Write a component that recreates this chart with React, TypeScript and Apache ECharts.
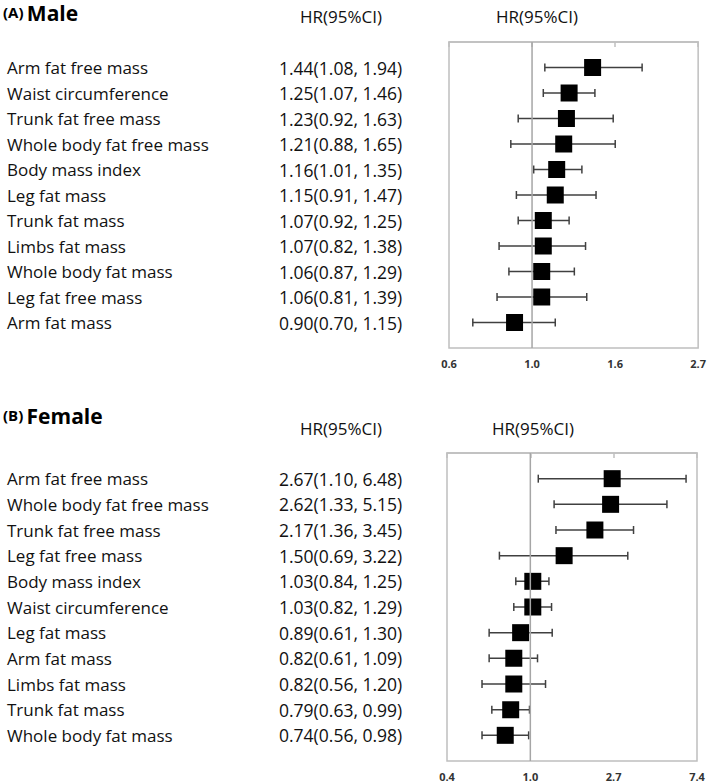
import React, { useEffect, useRef } from "react";
import * as echarts from "echarts";

const maleNames = [
  "Arm fat free mass",
  "Waist circumference",
  "Trunk fat free mass",
  "Whole body fat free mass",
  "Body mass index",
  "Leg fat mass",
  "Trunk fat mass",
  "Limbs fat mass",
  "Whole body fat mass",
  "Leg fat free mass",
  "Arm fat mass",
];
const maleHR = [1.44, 1.25, 1.23, 1.21, 1.16, 1.15, 1.07, 1.07, 1.06, 1.06, 0.9];
const maleLo = [1.08, 1.07, 0.92, 0.88, 1.01, 0.91, 0.92, 0.82, 0.87, 0.81, 0.7];
const maleHi = [1.94, 1.46, 1.63, 1.65, 1.35, 1.47, 1.25, 1.38, 1.29, 1.39, 1.15];
const maleTicks = ["0.6", "1.0", "1.6", "2.7"];

const femaleNames = [
  "Arm fat free mass",
  "Whole body fat free mass",
  "Trunk fat free mass",
  "Leg fat free mass",
  "Body mass index",
  "Waist circumference",
  "Leg fat mass",
  "Arm fat mass",
  "Limbs fat mass",
  "Trunk fat mass",
  "Whole body fat mass",
];
const femaleHR = [2.67, 2.62, 2.17, 1.5, 1.03, 1.03, 0.89, 0.82, 0.82, 0.79, 0.74];
const femaleLo = [1.1, 1.33, 1.36, 0.69, 0.84, 0.82, 0.61, 0.61, 0.56, 0.63, 0.56];
const femaleHi = [6.48, 5.15, 3.45, 3.22, 1.25, 1.29, 1.3, 1.09, 1.2, 0.99, 0.98];
const femaleTicks = ["0.4", "1.0", "2.7", "7.4"];

const FONT = "'Open Sans', sans-serif";
const fmt = (v: number) => v.toFixed(2);

function panel(
  gi: number,
  names: string[],
  hr: number[],
  lo: number[],
  hi: number[],
  ticks: string[],
  min: number,
  max: number,
  interval: number,
  gridLeft: number
) {
  const n = names.length;
  const xAxis = {
    type: "value",
    gridIndex: gi,
    min,
    max,
    interval,
    axisLine: { show: true, lineStyle: { color: "#bfbfbf", width: 1.5 } },
    axisTick: { show: true, length: 5, inside: false, lineStyle: { color: "#bfbfbf", width: 1.5 } },
    splitLine: { show: false },
    axisLabel: {
      margin: 10,
      color: "#333",
      fontWeight: "bold",
      fontSize: 11,
      fontFamily: FONT,
      formatter: (v: number) => ticks[Math.round((v - min) / interval)] ?? "",
    },
  };
  const yBase = {
    type: "value",
    gridIndex: gi,
    min: 0,
    max: n + 1,
    interval: 1,
    inverse: true,
    position: "left",
    axisLine: { show: false },
    axisTick: { show: false },
    splitLine: { show: false },
  };
  const yNames = {
    ...yBase,
    axisLabel: {
      align: "left",
      margin: gridLeft - 7,
      color: "#111",
      fontSize: 17,
      fontFamily: FONT,
      formatter: (v: number) => (v >= 1 && v <= n ? names[v - 1] : ""),
    },
  };
  const yHR = {
    ...yBase,
    axisLabel: {
      align: "left",
      margin: gridLeft - 279,
      color: "#111",
      fontSize: 17.5,
      fontFamily: FONT,
      formatter: (v: number) =>
        v >= 1 && v <= n ? `${fmt(hr[v - 1])}(${fmt(lo[v - 1])}, ${fmt(hi[v - 1])})` : "",
    },
  };
  const data = hr.map((h, i) => [i + 1, Math.log(h), Math.log(lo[i]), Math.log(hi[i])]);
  return { xAxis, yNames, yHR, data };
}

export default function App() {
  const ref = useRef<HTMLDivElement>(null);
  useEffect(() => {
    if (!ref.current) return;
    const chart = echarts.init(ref.current, null, { renderer: "svg" });
    const m = panel(0, maleNames, maleHR, maleLo, maleHi, maleTicks, -0.5, 1, 0.5, 449);
    const f = panel(1, femaleNames, femaleHR, femaleLo, femaleHi, femaleTicks, -1, 2, 1, 447);

    const renderItem = (params: any, api: any) => {
      const y = api.value(0);
      const c = api.coord([api.value(1), y]);
      const l = api.coord([api.value(2), y]);
      const r = api.coord([api.value(3), y]);
      const cap = 4;
      const s = 17;
      const ls = { stroke: "#404040", lineWidth: 1.5 };
      return {
        type: "group",
        children: [
          { type: "line", shape: { x1: l[0], y1: c[1], x2: r[0], y2: c[1] }, style: ls },
          { type: "line", shape: { x1: l[0], y1: c[1] - cap, x2: l[0], y2: c[1] + cap }, style: ls },
          { type: "line", shape: { x1: r[0], y1: c[1] - cap, x2: r[0], y2: c[1] + cap }, style: ls },
          { type: "rect", shape: { x: c[0] - s / 2, y: c[1] - s / 2, width: s, height: s }, style: { fill: "#000" } },
        ],
      };
    };

    const headerStyle = { fontSize: 17, fontFamily: FONT, fill: "#111" };
    const titleRich = {
      a: { fontSize: 15, fontFamily: FONT, color: "#111", fontWeight: "bold", lineHeight: 24, verticalAlign: "top", padding: [3, 0, 0, 0] },
      b: { fontSize: 21, fontFamily: FONT, color: "#000", fontWeight: "bold", lineHeight: 24 },
    };

    chart.setOption({
      animation: false,
      backgroundColor: "#fff",
      grid: [
        { left: 449, top: 42, width: 251, height: 306, show: true, borderColor: "#bfbfbf", borderWidth: 1.5, backgroundColor: "transparent" },
        { left: 447, top: 453, width: 250, height: 308, show: true, borderColor: "#bfbfbf", borderWidth: 1.5, backgroundColor: "transparent" },
      ],
      xAxis: [m.xAxis, f.xAxis],
      yAxis: [m.yNames, m.yHR, f.yNames, f.yHR],
      graphic: [
        { type: "text", left: 3, top: 1, style: { text: "{a|(A)} {b|Male}", rich: titleRich } },
        { type: "text", left: 3, top: 404, style: { text: "{a|(B)} {b|Female}", rich: titleRich } },
        { type: "text", left: 300, top: 8, style: { text: "HR(95%CI)", ...headerStyle } },
        { type: "text", left: 496, top: 8, style: { text: "HR(95%CI)", ...headerStyle } },
        { type: "text", left: 300, top: 420, style: { text: "HR(95%CI)", ...headerStyle } },
        { type: "text", left: 492, top: 420, style: { text: "HR(95%CI)", ...headerStyle } },
      ],
      series: [
        {
          type: "line",
          xAxisIndex: 0,
          yAxisIndex: 0,
          data: [[0, 0], [0, maleNames.length + 1]],
          symbol: "none",
          lineStyle: { color: "#a6a6a6", width: 1.5 },
          silent: true,
        },
        {
          type: "line",
          xAxisIndex: 1,
          yAxisIndex: 2,
          data: [[0, 0], [0, femaleNames.length + 1]],
          symbol: "none",
          lineStyle: { color: "#a6a6a6", width: 1.5 },
          silent: true,
        },
        {
          type: "custom",
          xAxisIndex: 0,
          yAxisIndex: 0,
          renderItem,
          encode: { x: [1, 2, 3], y: 0 },
          data: m.data,
          clip: false,
        },
        {
          type: "custom",
          xAxisIndex: 1,
          yAxisIndex: 2,
          renderItem,
          encode: { x: [1, 2, 3], y: 0 },
          data: f.data,
          clip: false,
        },
      ],
    });
    return () => chart.dispose();
  }, []);
  return (
    <div
      ref={ref}
      style={{ position: "absolute", left: 0, top: 0, width: 709, height: 783, background: "#fff" }}
    />
  );
}
